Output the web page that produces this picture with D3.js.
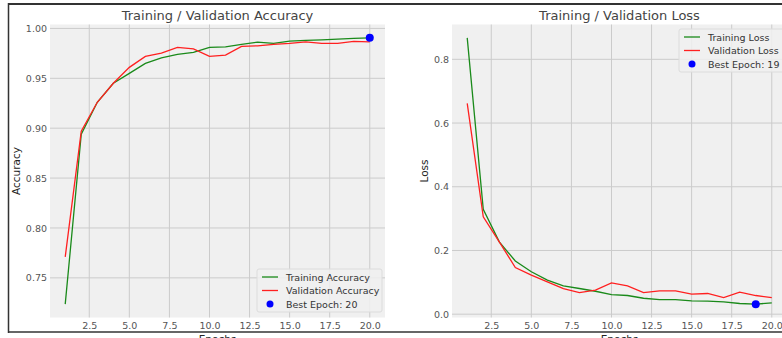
<!DOCTYPE html>
<meta charset="utf-8">
<style>
body { margin: 0; background: #fff; }
text { font-family: "DejaVu Sans", sans-serif; }
.tick text { fill: #555; font-size: 9.5px; }
.grid line { stroke: #cbcbcb; stroke-width: 1; }
</style>
<svg width="782" height="338"></svg>
<script src="https://d3js.org/d3.v7.min.js"></script>
<script>

var epochs = d3.range(1, 21);

var trainAcc = [0.7236, 0.894, 0.926, 0.945, 0.955, 0.965, 0.9706, 0.974, 0.976, 0.981,
                0.9816, 0.984, 0.9863, 0.985, 0.9873, 0.988, 0.9886, 0.9893, 0.990, 0.9906];
var valAcc   = [0.771, 0.897, 0.926, 0.945, 0.961, 0.972, 0.9752, 0.981, 0.9796, 0.972,
                0.9732, 0.982, 0.9826, 0.984, 0.985, 0.9866, 0.985, 0.985, 0.987, 0.9866];

var trainLoss = [0.8675, 0.329, 0.227, 0.167, 0.133, 0.1067, 0.089, 0.0806, 0.072, 0.0617,
                 0.0586, 0.050, 0.046, 0.046, 0.042, 0.041, 0.0387, 0.0335, 0.0314, 0.0356];
var valLoss   = [0.6615, 0.3056, 0.227, 0.1465, 0.1224, 0.1015, 0.0806, 0.068, 0.0753, 0.0984,
                 0.089, 0.068, 0.073, 0.073, 0.063, 0.065, 0.052, 0.069, 0.0586, 0.052];

var xTicks = [2.5, 5.0, 7.5, 10.0, 12.5, 15.0, 17.5, 20.0];
var accTicks = [0.75, 0.80, 0.85, 0.90, 0.95, 1.00];
var lossTicks = [0.0, 0.2, 0.4, 0.6, 0.8];

var bestAcc = {epoch: 20, value: 0.9906};
var bestLoss = {epoch: 19, value: 0.0314};

var svg = d3.select("svg");

svg.append("rect").attr("width", 782).attr("height", 338).attr("fill", "#fff");

// frame of the screenshot
svg.append("line").attr("x1", 8).attr("x2", 782).attr("y1", 4).attr("y2", 4)
   .attr("stroke", "#333").attr("stroke-width", 2);
svg.append("line").attr("x1", 8.5).attr("x2", 8.5).attr("y1", 3).attr("y2", 333)
   .attr("stroke", "#333").attr("stroke-width", 1.5);
svg.append("line").attr("x1", 8).attr("x2", 782).attr("y1", 332).attr("y2", 332)
   .attr("stroke", "#333").attr("stroke-width", 1.5);

function panel(opt) {
  var left = opt.left, top = 24.5, w = 335, h = 293;

  var x = d3.scaleLinear().domain([0.05, 20.95]).range([left, left + w]);
  var ext = d3.extent(opt.train.concat(opt.val));
  var pad = (ext[1] - ext[0]) * 0.05;
  var y = d3.scaleLinear().domain([ext[0] - pad, ext[1] + pad]).range([top + h, top]);

  var g = svg.append("g");

  g.append("rect").attr("x", left).attr("y", top).attr("width", w).attr("height", h)
   .attr("fill", "#f0f0f0");

  g.append("g").attr("class", "grid")
   .selectAll("line").data(xTicks).enter().append("line")
   .attr("x1", function(d) { return x(d); }).attr("x2", function(d) { return x(d); })
   .attr("y1", top).attr("y2", top + h);
  g.append("g").attr("class", "grid")
   .selectAll("line").data(opt.yTicks).enter().append("line")
   .attr("x1", left).attr("x2", left + w)
   .attr("y1", function(d) { return y(d); }).attr("y2", function(d) { return y(d); });

  var xa = g.append("g").attr("transform", "translate(0," + (top + h) + ")")
    .call(d3.axisBottom(x).tickValues(xTicks).tickFormat(d3.format(".1f")).tickSize(0).tickPadding(5));
  xa.select(".domain").remove();

  var ya = g.append("g").attr("transform", "translate(" + left + ",0)")
    .call(d3.axisLeft(y).tickValues(opt.yTicks).tickFormat(d3.format(opt.yFmt)).tickSize(0).tickPadding(3));
  ya.select(".domain").remove();

  var line = d3.line().x(function(d, i) { return x(epochs[i]); }).y(function(d) { return y(d); });

  g.append("path").datum(opt.train).attr("d", line)
   .attr("fill", "none").attr("stroke", "#1a8a1a").attr("stroke-width", 1.3);
  g.append("path").datum(opt.val).attr("d", line)
   .attr("fill", "none").attr("stroke", "#ff2020").attr("stroke-width", 1.3);

  g.append("circle").attr("cx", x(opt.best.epoch)).attr("cy", y(opt.best.value))
   .attr("r", 4).attr("fill", "#0000ff");

  g.append("text").attr("x", left + w / 2).attr("y", 20)
   .attr("text-anchor", "middle").attr("font-size", "13px").attr("fill", "#444")
   .text(opt.title);

  g.append("text").attr("transform", "translate(" + opt.ylabelX + "," + (top + h / 2) + ") rotate(-90)")
   .attr("text-anchor", "middle").attr("font-size", "10.5px").attr("fill", "#222")
   .text(opt.ylabel);

  g.append("text").attr("x", left + w / 2).attr("y", 343)
   .attr("text-anchor", "middle").attr("font-size", "10.5px").attr("fill", "#222")
   .text("Epochs");

  // legend
  var lg = g.append("g").attr("transform", "translate(" + opt.legend[0] + "," + opt.legend[1] + ")");
  lg.append("rect").attr("width", opt.legend[2]).attr("height", 43).attr("rx", 2)
    .attr("fill", "#f0f0f0").attr("fill-opacity", 0.85).attr("stroke", "#dcdcdc");
  var items = [
    {label: opt.labels[0], color: "#1a8a1a", kind: "line"},
    {label: opt.labels[1], color: "#ff2020", kind: "line"},
    {label: opt.labels[2], color: "#0000ff", kind: "dot"}
  ];
  var it = lg.selectAll("g.item").data(items).enter().append("g")
    .attr("transform", function(d, i) { return "translate(0," + (8 + i * 13.5) + ")"; });
  it.filter(function(d) { return d.kind == "line"; }).append("line")
    .attr("x1", 5).attr("x2", 21).attr("y1", 0).attr("y2", 0)
    .attr("stroke", function(d) { return d.color; }).attr("stroke-width", 1.3);
  it.filter(function(d) { return d.kind == "dot"; }).append("circle")
    .attr("cx", 13).attr("cy", 0).attr("r", 3.5).attr("fill", function(d) { return d.color; });
  it.append("text").attr("x", 29).attr("y", 3.5).attr("font-size", "9.5px").attr("fill", "#333")
    .text(function(d) { return d.label; });
}

panel({
  left: 50, title: "Training / Validation Accuracy", ylabel: "Accuracy", ylabelX: 20,
  train: trainAcc, val: valAcc, yTicks: accTicks, yFmt: ".2f", best: bestAcc,
  labels: ["Training Accuracy", "Validation Accuracy", "Best Epoch: 20"],
  legend: [257, 269, 125]
});

panel({
  left: 452, title: "Training / Validation Loss", ylabel: "Loss", ylabelX: 428,
  train: trainLoss, val: valLoss, yTicks: lossTicks, yFmt: ".1f", best: bestLoss,
  labels: ["Training Loss", "Validation Loss", "Best Epoch: 19"],
  legend: [679, 29, 106]
});

</script>
